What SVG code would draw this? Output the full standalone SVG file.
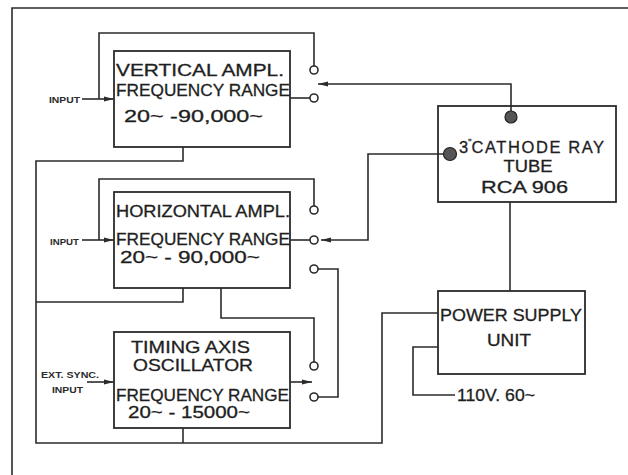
<svg xmlns="http://www.w3.org/2000/svg" width="628" height="475" viewBox="0 0 628 475">
<defs>
<style>
.box{fill:none;stroke:#2b2b2b;stroke-width:1.8}
.wire{fill:none;stroke:#2b2b2b;stroke-width:1.6}
.term{fill:#fff;stroke:#2b2b2b;stroke-width:1.6}
.dot{fill:#555;stroke:#222;stroke-width:1.2}
.t{font-family:"Liberation Sans",Arial,sans-serif;font-size:16.5px;fill:#1e1e1e;stroke:#1e1e1e;stroke-width:0.3}
.s{font-family:"Liberation Sans",Arial,sans-serif;font-size:8.5px;font-weight:bold;fill:#2b2b2b}
</style>
<marker id="arr" viewBox="0 0 10 6" refX="10" refY="3" markerWidth="10" markerHeight="6" markerUnits="userSpaceOnUse" orient="auto">
<path d="M0,0.5 L10,3 L0,5.5 Z" fill="#2b2b2b"/>
</marker>
</defs>
<rect width="628" height="475" fill="#fff"/>
<g id="connectors">
<path class="wire" d="M12,475 V8 H628"/>
<path class="wire" d="M99,99 V33 H314 V66"/>
<path class="wire" d="M82,99 H114" marker-end="url(#arr)"/>
<path class="wire" d="M290,98 H310"/>
<path class="wire" d="M511,111 V84 H318" marker-end="url(#arr)"/>
<path class="wire" d="M183,147 V161 H36 V443 H382 V313 H438"/>
<path class="wire" d="M183,288 V302 H36"/>
<path class="wire" d="M99,240 V179 H314 V206"/>
<path class="wire" d="M82,240 H114" marker-end="url(#arr)"/>
<path class="wire" d="M290,240 H310"/>
<path class="wire" d="M444,154 H368 V240 H321" marker-end="url(#arr)"/>
<path class="wire" d="M318,269 H338 V397 H318"/>
<path class="wire" d="M221,288 V318 H314 V362"/>
<path class="wire" d="M87,382 H114" marker-end="url(#arr)"/>
<path class="wire" d="M290,382 H312" marker-end="url(#arr)"/>
<path class="wire" d="M183,428 V443"/>
<path class="wire" d="M510,202 V291"/>
<path class="wire" d="M438,347 H413 V395 H455"/>
</g>
<g id="vertical-ampl">
<rect class="box" x="114" y="51" width="176" height="96"/>
<text class="t" x="116" y="76" textLength="168" lengthAdjust="spacingAndGlyphs">VERTICAL AMPL.</text>
<text class="t" x="116" y="96" textLength="174" lengthAdjust="spacingAndGlyphs">FREQUENCY RANGE</text>
<text class="t" x="124" y="122" textLength="139" lengthAdjust="spacingAndGlyphs">20~ -90,000~</text>
</g>
<g id="vertical-input">
<text class="s" x="49" y="103" textLength="31" lengthAdjust="spacingAndGlyphs">INPUT</text>
</g>
<g id="vertical-switch">
<circle class="term" cx="314" cy="70" r="4"/>
<circle class="term" cx="314" cy="98" r="4"/>
</g>
<g id="horizontal-ampl">
<rect class="box" x="114" y="192" width="176" height="96"/>
<text class="t" x="116" y="217" textLength="174" lengthAdjust="spacingAndGlyphs">HORIZONTAL AMPL.</text>
<text class="t" x="116" y="245" textLength="174" lengthAdjust="spacingAndGlyphs">FREQUENCY RANGE</text>
<text class="t" x="120" y="263" textLength="140" lengthAdjust="spacingAndGlyphs">20~ - 90,000~</text>
</g>
<g id="horizontal-input">
<text class="s" x="50" y="245" textLength="29" lengthAdjust="spacingAndGlyphs">INPUT</text>
</g>
<g id="horizontal-switch">
<circle class="term" cx="314" cy="210" r="4"/>
<circle class="term" cx="314" cy="240" r="4"/>
<circle class="term" cx="314" cy="269" r="4"/>
</g>
<g id="timing-oscillator">
<rect class="box" x="114" y="332" width="176" height="96"/>
<text class="t" x="131" y="353" textLength="119" lengthAdjust="spacingAndGlyphs">TIMING AXIS</text>
<text class="t" x="133" y="371" textLength="120" lengthAdjust="spacingAndGlyphs">OSCILLATOR</text>
<text class="t" x="116" y="401" textLength="173" lengthAdjust="spacingAndGlyphs">FREQUENCY RANGE</text>
<text class="t" x="128" y="418" textLength="122" lengthAdjust="spacingAndGlyphs">20~ - 15000~</text>
</g>
<g id="ext-sync-input">
<text class="s" x="41" y="378" textLength="58" lengthAdjust="spacingAndGlyphs">EXT. SYNC.</text>
<text class="s" x="52" y="393" textLength="31" lengthAdjust="spacingAndGlyphs">INPUT</text>
</g>
<g id="timing-switch">
<circle class="term" cx="314" cy="366" r="4"/>
<circle class="term" cx="314" cy="397" r="4"/>
</g>
<g id="crt">
<rect class="box" x="438" y="106" width="178" height="96"/>
<circle class="dot" cx="511" cy="117" r="6"/>
<circle class="dot" cx="450" cy="154" r="6.5"/>
<text class="t" x="459" y="153">3<tspan font-size="9" dy="-8">"</tspan><tspan dy="8" letter-spacing="1.6">CATHODE RAY</tspan></text>
<text class="t" x="528" y="172" text-anchor="middle" textLength="49" lengthAdjust="spacingAndGlyphs">TUBE</text>
<text class="t" x="481" y="193" textLength="87" lengthAdjust="spacingAndGlyphs">RCA 906</text>
</g>
<g id="power-supply">
<rect class="box" x="438" y="291" width="147" height="83"/>
<text class="t" x="440" y="321" textLength="142" lengthAdjust="spacingAndGlyphs">POWER SUPPLY</text>
<text class="t" x="487" y="346" textLength="44" lengthAdjust="spacingAndGlyphs">UNIT</text>
</g>
<g id="mains">
<text class="t" x="457" y="401" textLength="78" lengthAdjust="spacingAndGlyphs">110V. 60~</text>
</g>
</svg>
